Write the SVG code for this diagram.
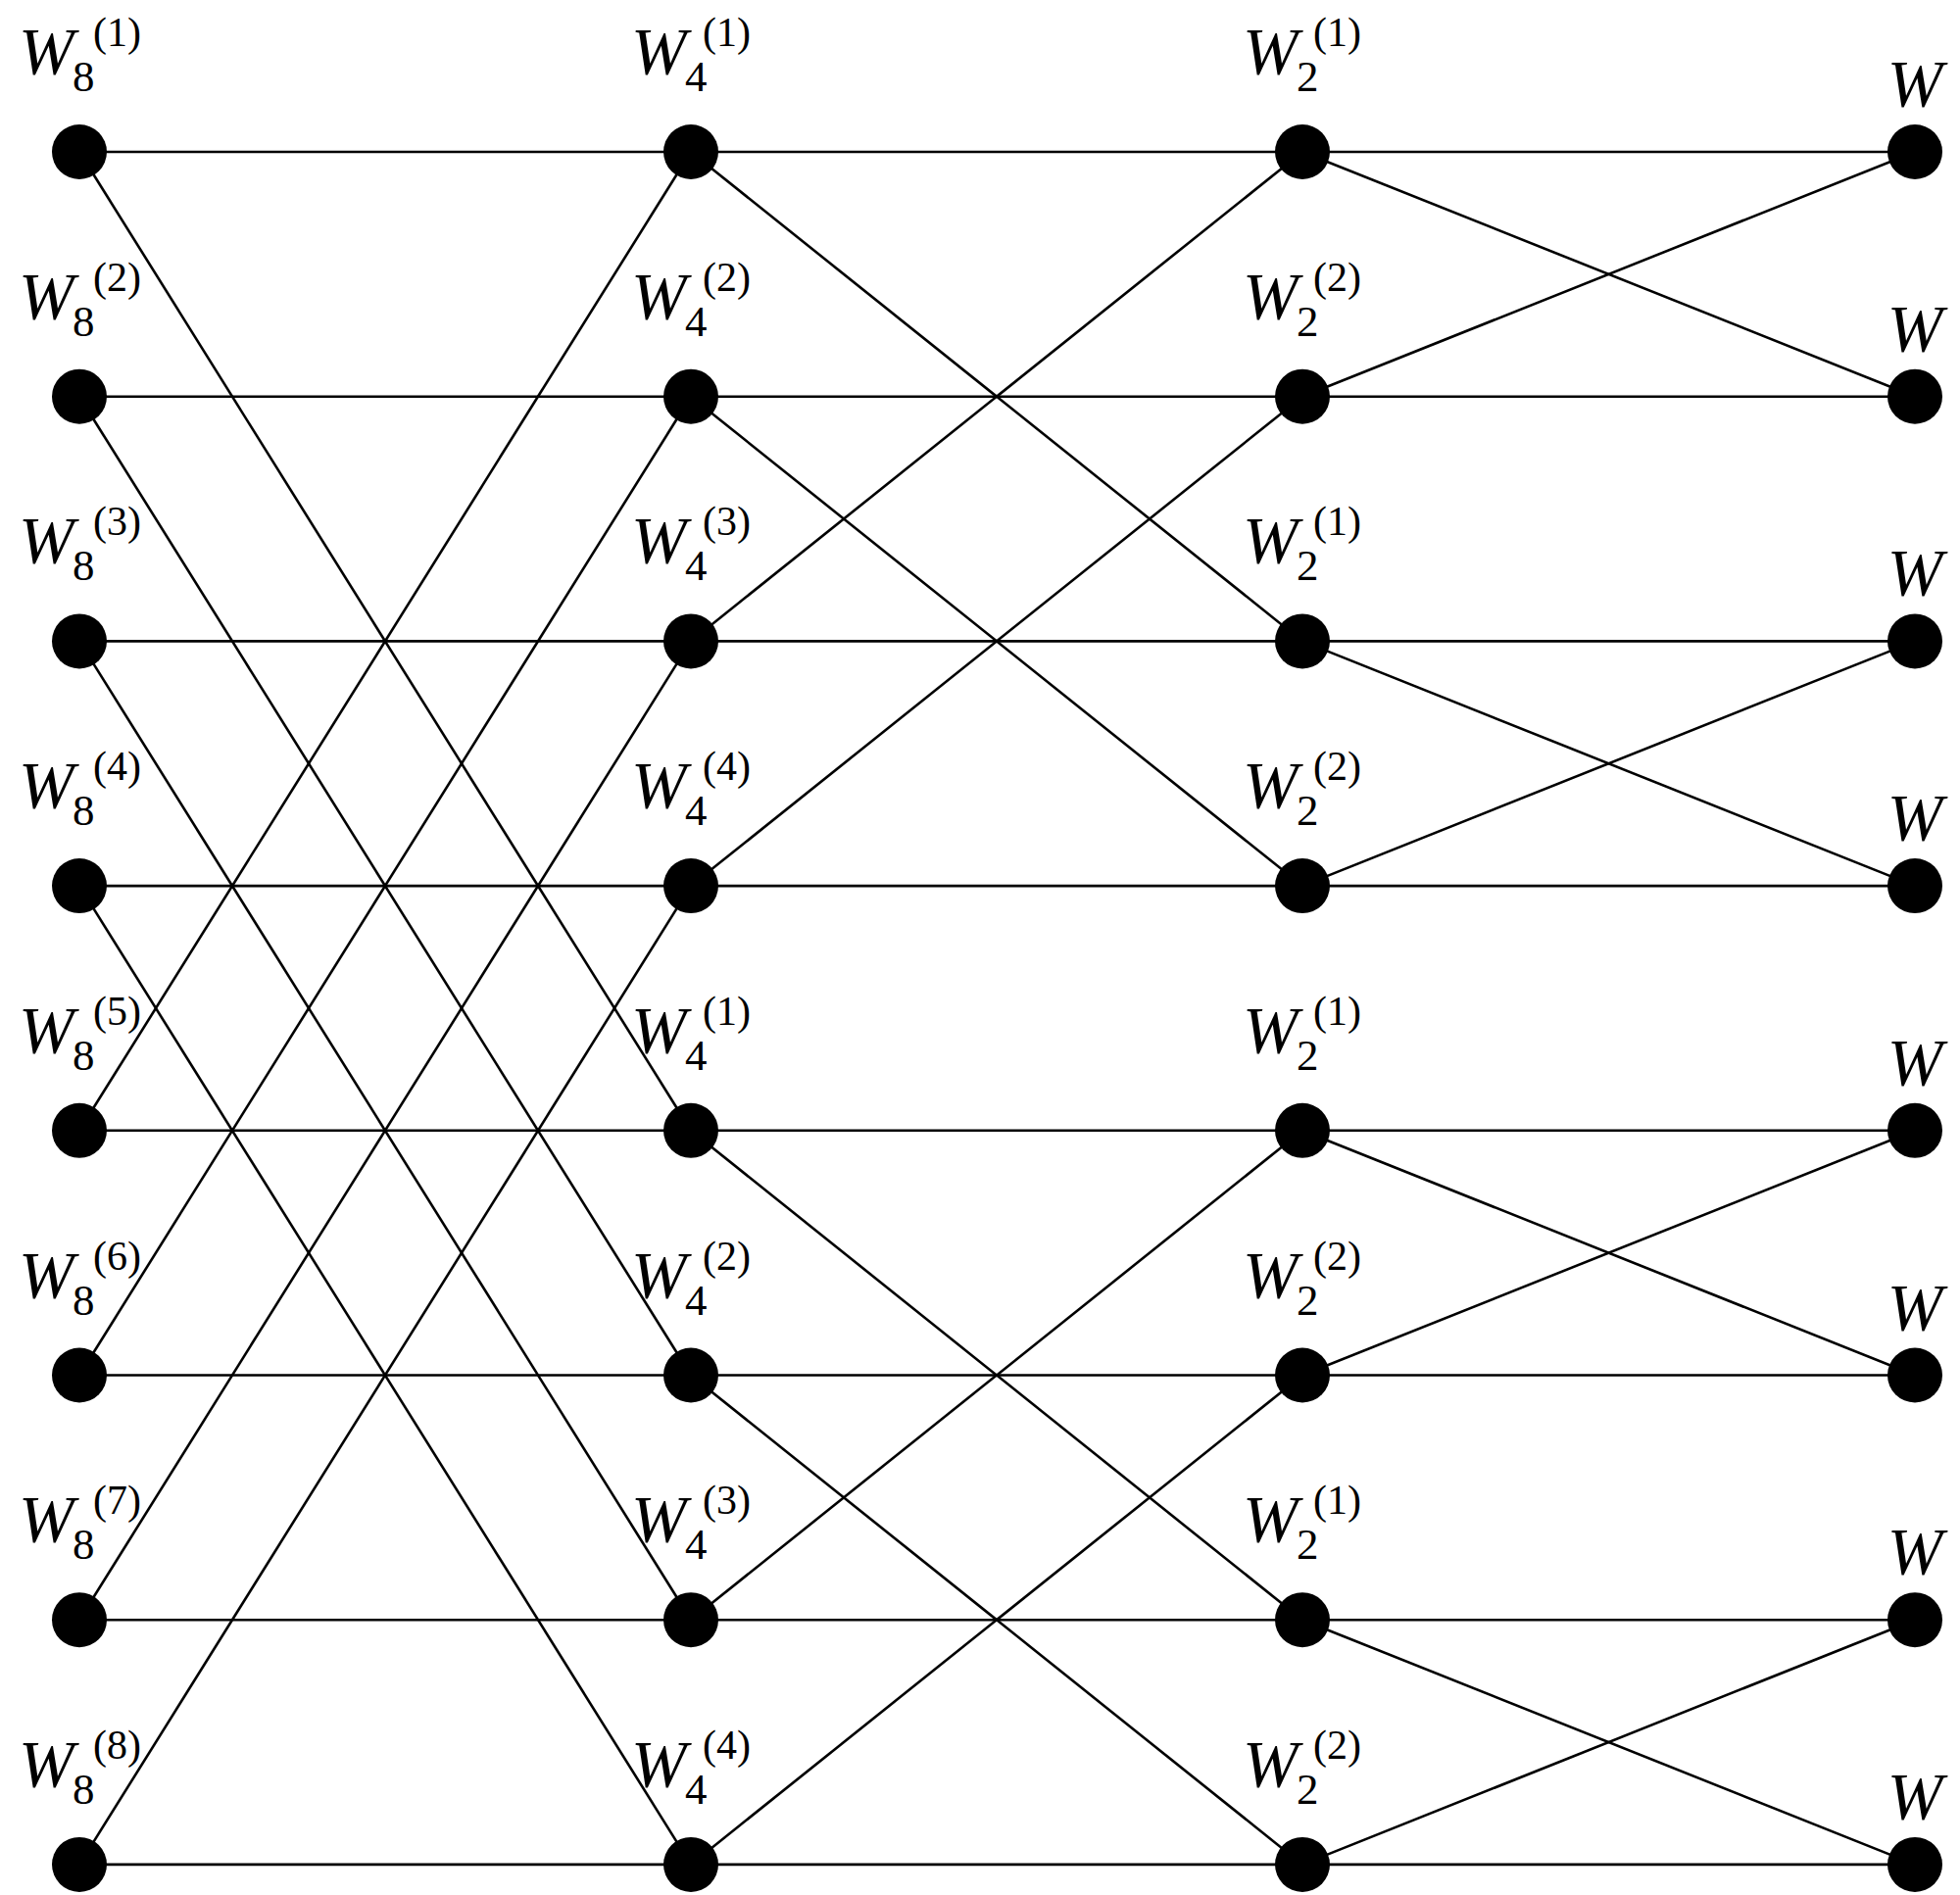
<svg xmlns="http://www.w3.org/2000/svg" width="2000" height="1934" viewBox="0 0 2000 1934">
<style>
.bg{fill:#fff}
.e{stroke:#000;stroke-width:2.6;fill:none}
.n{fill:#000}
.w{font-family:"Liberation Serif",serif;font-style:italic;font-size:68px;fill:#000}
.sb{font-family:"Liberation Serif",serif;font-size:45px;fill:#000}
.sp{font-family:"Liberation Serif",serif;font-size:42px;fill:#000}
</style>
<rect class="bg" x="0" y="0" width="2000" height="1934"/>
<g id="connectors">
<line class="e" x1="81" y1="155" x2="705" y2="155"/>
<line class="e" x1="81" y1="404.7" x2="705" y2="404.7"/>
<line class="e" x1="81" y1="654.4" x2="705" y2="654.4"/>
<line class="e" x1="81" y1="904.1" x2="705" y2="904.1"/>
<line class="e" x1="81" y1="1153.8" x2="705" y2="1153.8"/>
<line class="e" x1="81" y1="1403.5" x2="705" y2="1403.5"/>
<line class="e" x1="81" y1="1653.2" x2="705" y2="1653.2"/>
<line class="e" x1="81" y1="1902.9" x2="705" y2="1902.9"/>
<line class="e" x1="81" y1="155" x2="705" y2="1153.8"/>
<line class="e" x1="81" y1="404.7" x2="705" y2="1403.5"/>
<line class="e" x1="81" y1="654.4" x2="705" y2="1653.2"/>
<line class="e" x1="81" y1="904.1" x2="705" y2="1902.9"/>
<line class="e" x1="81" y1="1153.8" x2="705" y2="155"/>
<line class="e" x1="81" y1="1403.5" x2="705" y2="404.7"/>
<line class="e" x1="81" y1="1653.2" x2="705" y2="654.4"/>
<line class="e" x1="81" y1="1902.9" x2="705" y2="904.1"/>
<line class="e" x1="705" y1="155" x2="1329" y2="155"/>
<line class="e" x1="705" y1="404.7" x2="1329" y2="404.7"/>
<line class="e" x1="705" y1="654.4" x2="1329" y2="654.4"/>
<line class="e" x1="705" y1="904.1" x2="1329" y2="904.1"/>
<line class="e" x1="705" y1="1153.8" x2="1329" y2="1153.8"/>
<line class="e" x1="705" y1="1403.5" x2="1329" y2="1403.5"/>
<line class="e" x1="705" y1="1653.2" x2="1329" y2="1653.2"/>
<line class="e" x1="705" y1="1902.9" x2="1329" y2="1902.9"/>
<line class="e" x1="705" y1="155" x2="1329" y2="654.4"/>
<line class="e" x1="705" y1="404.7" x2="1329" y2="904.1"/>
<line class="e" x1="705" y1="654.4" x2="1329" y2="155"/>
<line class="e" x1="705" y1="904.1" x2="1329" y2="404.7"/>
<line class="e" x1="705" y1="1153.8" x2="1329" y2="1653.2"/>
<line class="e" x1="705" y1="1403.5" x2="1329" y2="1902.9"/>
<line class="e" x1="705" y1="1653.2" x2="1329" y2="1153.8"/>
<line class="e" x1="705" y1="1902.9" x2="1329" y2="1403.5"/>
<line class="e" x1="1329" y1="155" x2="1954" y2="155"/>
<line class="e" x1="1329" y1="404.7" x2="1954" y2="404.7"/>
<line class="e" x1="1329" y1="654.4" x2="1954" y2="654.4"/>
<line class="e" x1="1329" y1="904.1" x2="1954" y2="904.1"/>
<line class="e" x1="1329" y1="1153.8" x2="1954" y2="1153.8"/>
<line class="e" x1="1329" y1="1403.5" x2="1954" y2="1403.5"/>
<line class="e" x1="1329" y1="1653.2" x2="1954" y2="1653.2"/>
<line class="e" x1="1329" y1="1902.9" x2="1954" y2="1902.9"/>
<line class="e" x1="1329" y1="155" x2="1954" y2="404.7"/>
<line class="e" x1="1329" y1="404.7" x2="1954" y2="155"/>
<line class="e" x1="1329" y1="654.4" x2="1954" y2="904.1"/>
<line class="e" x1="1329" y1="904.1" x2="1954" y2="654.4"/>
<line class="e" x1="1329" y1="1153.8" x2="1954" y2="1403.5"/>
<line class="e" x1="1329" y1="1403.5" x2="1954" y2="1153.8"/>
<line class="e" x1="1329" y1="1653.2" x2="1954" y2="1902.9"/>
<line class="e" x1="1329" y1="1902.9" x2="1954" y2="1653.2"/>
</g>
<g id="a1" transform="translate(81,155)"><circle class="n" r="28"/><text class="w" x="-62" y="-80">W</text><text class="sb" x="-7" y="-62">8</text><text class="sp" x="14" y="-108">(1)</text></g>
<g id="a2" transform="translate(81,404.7)"><circle class="n" r="28"/><text class="w" x="-62" y="-80">W</text><text class="sb" x="-7" y="-62">8</text><text class="sp" x="14" y="-108">(2)</text></g>
<g id="a3" transform="translate(81,654.4)"><circle class="n" r="28"/><text class="w" x="-62" y="-80">W</text><text class="sb" x="-7" y="-62">8</text><text class="sp" x="14" y="-108">(3)</text></g>
<g id="a4" transform="translate(81,904.1)"><circle class="n" r="28"/><text class="w" x="-62" y="-80">W</text><text class="sb" x="-7" y="-62">8</text><text class="sp" x="14" y="-108">(4)</text></g>
<g id="a5" transform="translate(81,1153.8)"><circle class="n" r="28"/><text class="w" x="-62" y="-80">W</text><text class="sb" x="-7" y="-62">8</text><text class="sp" x="14" y="-108">(5)</text></g>
<g id="a6" transform="translate(81,1403.5)"><circle class="n" r="28"/><text class="w" x="-62" y="-80">W</text><text class="sb" x="-7" y="-62">8</text><text class="sp" x="14" y="-108">(6)</text></g>
<g id="a7" transform="translate(81,1653.2)"><circle class="n" r="28"/><text class="w" x="-62" y="-80">W</text><text class="sb" x="-7" y="-62">8</text><text class="sp" x="14" y="-108">(7)</text></g>
<g id="a8" transform="translate(81,1902.9)"><circle class="n" r="28"/><text class="w" x="-62" y="-80">W</text><text class="sb" x="-7" y="-62">8</text><text class="sp" x="14" y="-108">(8)</text></g>
<g id="b1" transform="translate(705,155)"><circle class="n" r="28"/><text class="w" x="-61" y="-80">W</text><text class="sb" x="-6" y="-62">4</text><text class="sp" x="12" y="-108">(1)</text></g>
<g id="b2" transform="translate(705,404.7)"><circle class="n" r="28"/><text class="w" x="-61" y="-80">W</text><text class="sb" x="-6" y="-62">4</text><text class="sp" x="12" y="-108">(2)</text></g>
<g id="b3" transform="translate(705,654.4)"><circle class="n" r="28"/><text class="w" x="-61" y="-80">W</text><text class="sb" x="-6" y="-62">4</text><text class="sp" x="12" y="-108">(3)</text></g>
<g id="b4" transform="translate(705,904.1)"><circle class="n" r="28"/><text class="w" x="-61" y="-80">W</text><text class="sb" x="-6" y="-62">4</text><text class="sp" x="12" y="-108">(4)</text></g>
<g id="b5" transform="translate(705,1153.8)"><circle class="n" r="28"/><text class="w" x="-61" y="-80">W</text><text class="sb" x="-6" y="-62">4</text><text class="sp" x="12" y="-108">(1)</text></g>
<g id="b6" transform="translate(705,1403.5)"><circle class="n" r="28"/><text class="w" x="-61" y="-80">W</text><text class="sb" x="-6" y="-62">4</text><text class="sp" x="12" y="-108">(2)</text></g>
<g id="b7" transform="translate(705,1653.2)"><circle class="n" r="28"/><text class="w" x="-61" y="-80">W</text><text class="sb" x="-6" y="-62">4</text><text class="sp" x="12" y="-108">(3)</text></g>
<g id="b8" transform="translate(705,1902.9)"><circle class="n" r="28"/><text class="w" x="-61" y="-80">W</text><text class="sb" x="-6" y="-62">4</text><text class="sp" x="12" y="-108">(4)</text></g>
<g id="c1" transform="translate(1329,155)"><circle class="n" r="28"/><text class="w" x="-61" y="-80">W</text><text class="sb" x="-6" y="-62">2</text><text class="sp" x="11" y="-108">(1)</text></g>
<g id="c2" transform="translate(1329,404.7)"><circle class="n" r="28"/><text class="w" x="-61" y="-80">W</text><text class="sb" x="-6" y="-62">2</text><text class="sp" x="11" y="-108">(2)</text></g>
<g id="c3" transform="translate(1329,654.4)"><circle class="n" r="28"/><text class="w" x="-61" y="-80">W</text><text class="sb" x="-6" y="-62">2</text><text class="sp" x="11" y="-108">(1)</text></g>
<g id="c4" transform="translate(1329,904.1)"><circle class="n" r="28"/><text class="w" x="-61" y="-80">W</text><text class="sb" x="-6" y="-62">2</text><text class="sp" x="11" y="-108">(2)</text></g>
<g id="c5" transform="translate(1329,1153.8)"><circle class="n" r="28"/><text class="w" x="-61" y="-80">W</text><text class="sb" x="-6" y="-62">2</text><text class="sp" x="11" y="-108">(1)</text></g>
<g id="c6" transform="translate(1329,1403.5)"><circle class="n" r="28"/><text class="w" x="-61" y="-80">W</text><text class="sb" x="-6" y="-62">2</text><text class="sp" x="11" y="-108">(2)</text></g>
<g id="c7" transform="translate(1329,1653.2)"><circle class="n" r="28"/><text class="w" x="-61" y="-80">W</text><text class="sb" x="-6" y="-62">2</text><text class="sp" x="11" y="-108">(1)</text></g>
<g id="c8" transform="translate(1329,1902.9)"><circle class="n" r="28"/><text class="w" x="-61" y="-80">W</text><text class="sb" x="-6" y="-62">2</text><text class="sp" x="11" y="-108">(2)</text></g>
<g id="d1" transform="translate(1954,155)"><circle class="n" r="28"/><text class="w" x="0" y="-47" text-anchor="middle">W</text></g>
<g id="d2" transform="translate(1954,404.7)"><circle class="n" r="28"/><text class="w" x="0" y="-47" text-anchor="middle">W</text></g>
<g id="d3" transform="translate(1954,654.4)"><circle class="n" r="28"/><text class="w" x="0" y="-47" text-anchor="middle">W</text></g>
<g id="d4" transform="translate(1954,904.1)"><circle class="n" r="28"/><text class="w" x="0" y="-47" text-anchor="middle">W</text></g>
<g id="d5" transform="translate(1954,1153.8)"><circle class="n" r="28"/><text class="w" x="0" y="-47" text-anchor="middle">W</text></g>
<g id="d6" transform="translate(1954,1403.5)"><circle class="n" r="28"/><text class="w" x="0" y="-47" text-anchor="middle">W</text></g>
<g id="d7" transform="translate(1954,1653.2)"><circle class="n" r="28"/><text class="w" x="0" y="-47" text-anchor="middle">W</text></g>
<g id="d8" transform="translate(1954,1902.9)"><circle class="n" r="28"/><text class="w" x="0" y="-47" text-anchor="middle">W</text></g>
</svg>
